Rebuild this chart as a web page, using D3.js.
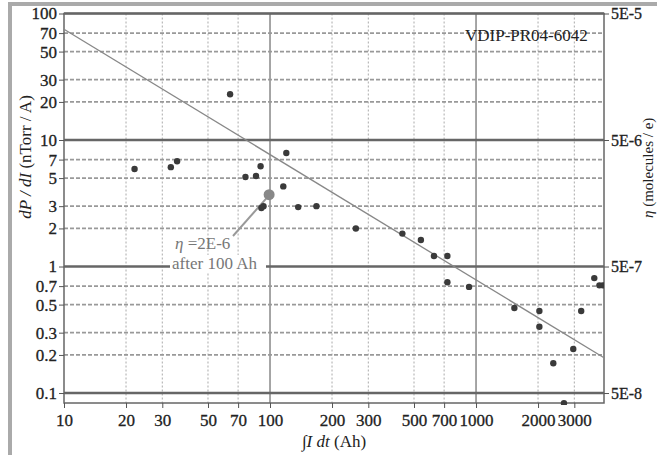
<!DOCTYPE html>
<html>
<head>
  <script src="https://cdnjs.cloudflare.com/ajax/libs/d3/7.8.5/d3.min.js"></script>
  <style>
    body { margin: 0; background: #fff; }
    text { font-family: "Liberation Serif", "DejaVu Serif", serif; }
    .title { font-size: 17px; fill: #222; }
  </style>
</head>
<body>
  <div id="graph"></div>
  <script>
    // Values
    const xTicks = [10, 20, 30, 50, 70, 100, 200, 300, 500, 700, 1000, 2000, 3000];
    const yTicks = [100, 70, 50, 30, 20, 10, 7, 5, 3, 2, 1, 0.7, 0.5, 0.3, 0.2, 0.1];
    const etaTicks = [5e-5, 5e-6, 5e-7, 5e-8];
    const etaLabels = ["5E-5", "5E-6", "5E-7", "5E-8"];

    // measured points: integrated current (Ah) and dP/dI (nTorr/A)
    const pointX = [22, 33, 35.4, 64, 76, 85.5, 90, 90.8, 93, 116, 120, 137, 168, 261, 439, 540, 625, 726, 726, 925,
                    1535, 2030, 2030, 2372, 2672, 2965, 3240, 3750, 3970, 4125];
    const pointY = [5.9, 6.1, 6.8, 23, 5.1, 5.2, 6.2, 2.9, 3.0, 4.3, 7.9, 2.95, 3.0, 2.0, 1.82, 1.62, 1.21, 1.21, 0.75, 0.69,
                    0.47, 0.445, 0.334, 0.172, 0.083, 0.223, 0.445, 0.81, 0.71, 0.71];

    // highlighted point, eta = 2E-6 after 100 Ah
    const markX = [99];
    const markY = [3.7];

    // fitted line end points
    const fitX = [10, 4180];
    const fitY = [75, 0.19];

    const W = 657, H = 455;
    const plot = {left: 64, right: 604, top: 13.5, bottom: 403};

    const svg = d3.select("#graph").append("svg")
      .attr("width", W)
      .attr("height", H);

    // outer gray frame (clipped by the image edge)
    svg.append("rect")
      .attr("x", 10).attr("y", 4)
      .attr("width", 700).attr("height", 500)
      .attr("fill", "none")
      .attr("stroke", "#aaa")
      .attr("stroke-width", 4);

    const x = d3.scaleLog().domain([10, 4180]).range([plot.left, plot.right]);
    const y = d3.scaleLog().domain([0.0834, 100]).range([plot.bottom, plot.top]);
    const yEta = d3.scaleLog().domain([0.0834 * 5e-7, 100 * 5e-7]).range([plot.bottom, plot.top]);

    const isDecade = v => Math.abs(Math.log10(v) - Math.round(Math.log10(v))) < 1e-6;

    // vertical grid
    svg.append("g").selectAll("line")
      .data(xTicks.filter(d => d > 10))
      .join("line")
        .attr("x1", d => x(d)).attr("x2", d => x(d))
        .attr("y1", plot.top).attr("y2", plot.bottom)
        .attr("stroke", d => isDecade(d) ? "#888" : "#aaa")
        .attr("stroke-width", d => isDecade(d) ? 1.5 : 1)
        .attr("stroke-dasharray", d => isDecade(d) ? null : "2,2");

    // horizontal grid
    svg.append("g").selectAll("line")
      .data(yTicks)
      .join("line")
        .attr("x1", plot.left).attr("x2", plot.right)
        .attr("y1", d => y(d)).attr("y2", d => y(d))
        .attr("stroke", d => isDecade(d) ? "#666" : "#999")
        .attr("stroke-width", d => isDecade(d) ? 2.5 : 1.8)
        .attr("stroke-dasharray", d => isDecade(d) ? null : "4,2");

    // plot frame
    svg.append("rect")
      .attr("x", plot.left).attr("y", plot.top)
      .attr("width", plot.right - plot.left)
      .attr("height", plot.bottom - plot.top)
      .attr("fill", "none")
      .attr("stroke", "#666")
      .attr("stroke-width", 1.5);

    // axes
    const xAxis = svg.append("g")
      .attr("transform", `translate(0,${plot.bottom})`)
      .call(d3.axisBottom(x).tickValues(xTicks).tickFormat(d3.format("d")).tickSize(5).tickPadding(6));
    const yAxis = svg.append("g")
      .attr("transform", `translate(${plot.left},0)`)
      .call(d3.axisLeft(y).tickValues(yTicks).tickFormat(d => String(d)).tickSize(5).tickPadding(2));
    const rAxis = svg.append("g")
      .attr("transform", `translate(${plot.right},0)`)
      .call(d3.axisRight(yEta).tickValues(etaTicks).tickFormat((d, i) => etaLabels[i]).tickSize(5).tickPadding(2));

    [xAxis, yAxis, rAxis].forEach(a => {
      a.select(".domain").remove();
      a.selectAll(".tick line").attr("stroke", "#555");
      a.selectAll(".tick text")
        .style("font-family", "'Liberation Serif', serif")
        .style("font-size", "17px")
        .style("fill", "#222")
        .style("stroke", "#222")
        .style("stroke-width", 0.3);
    });
    xAxis.selectAll(".tick text").attr("dy", "0.71em");
    rAxis.selectAll(".tick text").style("font-size", "16px");

    // fitted line
    svg.append("path")
      .datum(fitX.map((d, i) => ({x: d, y: fitY[i]})))
      .attr("fill", "none")
      .attr("stroke", "#888")
      .attr("stroke-width", 1.3)
      .attr("d", d3.line().x(d => x(d.x)).y(d => y(d.y)));

    // annotation leader
    svg.append("line")
      .attr("x1", 233).attr("y1", 236)
      .attr("x2", x(markX[0]) - 3).attr("y2", y(markY[0]) + 4)
      .attr("stroke", "#999")
      .attr("stroke-width", 2);

    // data points
    svg.append("clipPath").attr("id", "plotclip")
      .append("rect")
        .attr("x", plot.left).attr("y", plot.top)
        .attr("width", plot.right - plot.left)
        .attr("height", plot.bottom - plot.top + 2);

    svg.append("g")
      .attr("clip-path", "url(#plotclip)")
      .selectAll("circle")
      .data(pointX.map((d, i) => ({x: d, y: pointY[i]})))
      .join("circle")
        .attr("cx", d => x(d.x))
        .attr("cy", d => y(d.y))
        .attr("r", 3.2)
        .attr("fill", "#3a3a3a");

    svg.append("circle")
      .attr("cx", x(markX[0]))
      .attr("cy", y(markY[0]))
      .attr("r", 5.5)
      .attr("fill", "#888");

    // annotation text
    const ann1 = svg.append("text")
      .attr("x", 175).attr("y", 249)
      .style("font-size", "17px")
      .style("fill", "#777");
    ann1.append("tspan").style("font-style", "italic").text("η");
    ann1.append("tspan").text(" =2E-6");

    svg.append("rect")
      .attr("x", 170).attr("y", 255)
      .attr("width", 96).attr("height", 17)
      .attr("fill", "#fff");

    svg.append("text")
      .attr("x", 172).attr("y", 269)
      .style("font-size", "17px")
      .style("fill", "#777")
      .text("after 100 Ah");

    // series tag
    svg.append("text")
      .attr("x", 465).attr("y", 41)
      .style("font-size", "17px")
      .style("fill", "#222")
      .text("VDIP-PR04-6042");

    // axis titles
    const xt = svg.append("text")
      .attr("class", "title")
      .attr("x", 334).attr("y", 447)
      .style("text-anchor", "middle");
    xt.append("tspan").style("font-style", "italic").text("∫I dt");
    xt.append("tspan").text(" (Ah)");

    const yt = svg.append("text")
      .attr("class", "title")
      .attr("transform", "translate(31,157) rotate(-90)")
      .style("text-anchor", "middle");
    yt.append("tspan").style("font-style", "italic").text("dP / dI");
    yt.append("tspan").text(" (nTorr / A)");

    const rt = svg.append("text")
      .attr("class", "title")
      .attr("transform", "translate(653,218) rotate(-90)")
      .style("font-size", "15px")
      .style("text-anchor", "start");
    rt.append("tspan").style("font-style", "italic").text("η");
    rt.append("tspan").text(" (molecules / e)");
  </script>
</body>
</html>
